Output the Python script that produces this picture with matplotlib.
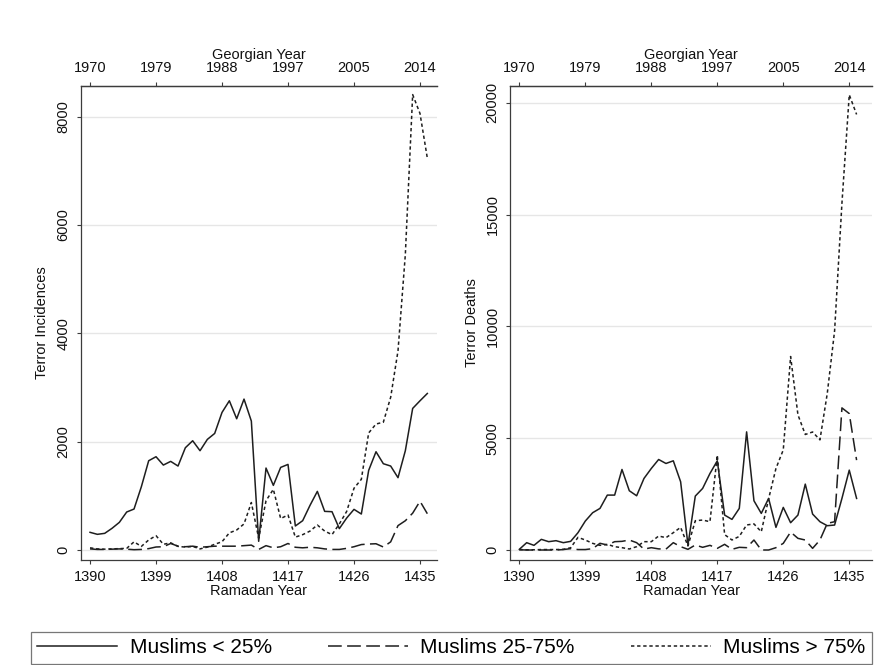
import matplotlib

matplotlib.use("Agg")
import matplotlib.pyplot as plt
from matplotlib.lines import Line2D

plt.rcParams["font.family"] = ["Liberation Sans", "DejaVu Sans"]

years = list(range(1390, 1437))
ramadan_ticks = [1390, 1399, 1408, 1417, 1426, 1435]
georgian_labels = ["1970", "1979", "1988", "1997", "2005", "2014"]

incid_low = [326, 289, 307, 400, 510, 701, 756, 1168, 1648, 1722, 1568, 1636, 1550, 1888,
             2017, 1833, 2042, 2152, 2540, 2755, 2423, 2786, 2380, 160, 1513, 1193, 1525,
             1580, 443, 541, 824, 1082, 713, 707, 394, 590, 750, 664, 1470, 1814, 1593,
             1550, 1335, 1833, 2614, 2755, 2890]
incid_mid = [20, 10, 10, 15, 20, 15, 5, 10, 25, 55, 60, 120, 70, 60, 70, 50, 60, 70, 70,
             70, 70, 80, 90, 10, 80, 40, 60, 120, 50, 40, 50, 40, 20, 10, 10, 30, 60, 100,
             110, 115, 55, 150, 450, 540, 680, 900, 670]
incid_high = [40, 20, 15, 20, 25, 30, 150, 66, 185, 264, 105, 132, 66, 53, 66, 20, 53, 105,
              152, 316, 369, 481, 876, 217, 909, 1120, 580, 646, 237, 283, 349, 461, 349,
              283, 481, 712, 1140, 1305, 2161, 2326, 2359, 2820, 3677, 5456, 8409, 8060,
              7236]

deaths_low = [30, 327, 208, 476, 372, 417, 327, 387, 774, 1295, 1667, 1860, 2455, 2455,
              3601, 2649, 2425, 3199, 3646, 4047, 3869, 3988, 3050, 223, 2411, 2753, 3422,
              3988, 1562, 1369, 1860, 5282, 2202, 1637, 2306, 1012, 1905, 1220, 1562, 2946,
              1607, 1265, 1086, 1116, 2306, 3571, 2306]
deaths_mid = [10, 0, 0, 0, 0, 0, 20, 60, 20, 20, 60, 300, 223, 372, 387, 446, 327, 40, 104,
              50, 40, 327, 149, 30, 223, 120, 208, 74, 253, 30, 119, 104, 446, 0, 0, 104,
              297, 803, 521, 446, 74, 446, 1190, 1265, 6354, 6100, 4018]
deaths_high = [20, 10, 10, 20, 20, 20, 30, 100, 565, 446, 297, 208, 253, 149, 104, 45, 149,
               372, 372, 625, 551, 774, 1012, 179, 1309, 1339, 1265, 4241, 687, 448, 608,
               1119, 1167, 815, 2287, 3646, 4477, 8651, 6044, 5165, 5277, 4925, 7000, 9800,
               15500, 20355, 19476]

series_labels = ["Muslims < 25%", "Muslims 25-75%", "Muslims > 75%"]

INK = "#1e1e1e"
AXC = "#3c3c3c"
STYLES = [
    dict(linestyle="-"),
    dict(linestyle=(0, (9, 3.5))),
    dict(linestyle=(0, (2.2, 1.8))),
]


def draw_panel(ax, series, yticks, ylim, xlim, ylabel):
    for vals, st in zip(series, STYLES):
        ax.plot(years, vals, color=INK, linewidth=1.1, **st)
    ax.set_xlim(*xlim)
    ax.set_ylim(*ylim)
    ax.set_yticks(yticks)
    ax.set_xticks(ramadan_ticks)
    ax.yaxis.grid(True, color="#e6e6e6", linewidth=1.0)
    ax.set_axisbelow(True)
    ax.spines["right"].set_visible(False)
    for side in ("left", "bottom", "top"):
        ax.spines[side].set_color(AXC)
        ax.spines[side].set_linewidth(0.9)
    ax.tick_params(direction="out", length=3, width=0.8, color=AXC,
                   labelsize=10.5, labelcolor="#111111", pad=4.5)
    plt.setp(ax.get_yticklabels(), rotation=90, va="center")
    ax.set_xlabel("Ramadan Year", fontsize=10.5, labelpad=0, color="#111111")
    ax.set_ylabel(ylabel, fontsize=10.5, labelpad=5, color="#111111")

    top = ax.secondary_xaxis("top")
    top.set_xticks(ramadan_ticks)
    top.set_xticklabels(georgian_labels)
    top.tick_params(direction="out", length=3, width=0.8, color=AXC,
                    labelsize=10.5, labelcolor="#111111", pad=4.5)
    top.spines["top"].set_color(AXC)
    top.spines["top"].set_linewidth(0.9)
    top.set_xlabel("Georgian Year", fontsize=10.5, labelpad=2, color="#111111")


fig = plt.figure(figsize=(8.85, 6.65), dpi=100)
ax1 = fig.add_axes([0.0912, 0.1579, 0.4026, 0.7132])
ax2 = fig.add_axes([0.5763, 0.1579, 0.4090, 0.7132])

draw_panel(ax1, [incid_low, incid_mid, incid_high], [0, 2000, 4000, 6000, 8000],
           (-185, 8573), (1388.73, 1437.32), "Terror Incidences")
draw_panel(ax2, [deaths_low, deaths_mid, deaths_high], [0, 5000, 10000, 15000, 20000],
           (-447, 20760), (1388.73, 1438.1), "Terror Deaths")

handles = [Line2D([0], [0], color=INK, linewidth=1.1, **st) for st in STYLES]
leg = fig.legend(handles, series_labels, loc="lower left", ncol=3, mode="expand",
                 bbox_to_anchor=(0.035, 0.002, 0.950, 0.056), fontsize=15,
                 handlelength=3.85, handletextpad=0.6, borderaxespad=0,
                 fancybox=False, frameon=True, borderpad=0.3)
leg.get_frame().set_edgecolor("#555555")
leg.get_frame().set_linewidth(0.9)

fig.savefig("out.png", dpi=100)
